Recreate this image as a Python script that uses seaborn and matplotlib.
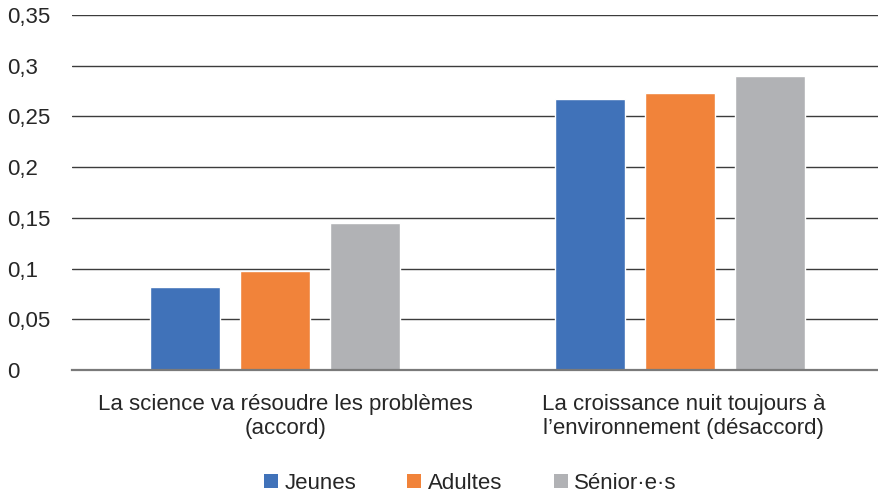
import matplotlib
matplotlib.use("Agg")
import matplotlib.pyplot as plt
import matplotlib.transforms as mtransforms
import seaborn as sns
import pandas as pd
from matplotlib.patches import Patch

categories = ["La science va résoudre les problèmes\n(accord)",
              "La croissance nuit toujours à\nl’environnement (désaccord)"]
groups = ["Jeunes", "Adultes", "Sénior·e·s"]
jeunes = [0.082, 0.267]
adultes = [0.098, 0.273]
seniors = [0.145, 0.290]
yticks = [0, 0.05, 0.1, 0.15, 0.2, 0.25, 0.3, 0.35]
ytick_labels = ["0", "0,05", "0,1", "0,15", "0,2", "0,25", "0,3", "0,35"]
colors = ["#4072B9", "#F1833A", "#B1B2B5"]

rows = []
for g, vals in zip(groups, [jeunes, adultes, seniors]):
    for c, v in zip(categories, vals):
        rows.append({"cat": c, "group": g, "val": v})
df = pd.DataFrame(rows)

sns.set_theme(style="white")
plt.rcParams["font.family"] = ["Liberation Sans", "DejaVu Sans"]
plt.rcParams["text.color"] = "#262626"

FS = 16
fig = plt.figure(figsize=(8.79, 4.94), dpi=100)
ax = fig.add_axes([72/879, 1 - 370/494, (879 - 72)/879, (370 - 15)/494])

sns.barplot(data=df, x="cat", y="val", hue="group", hue_order=groups,
            order=categories, palette=colors, width=0.665, gap=0.22,
            ax=ax, legend=False, saturation=1)

ax.set_xlim(-0.5, 1.49)
ax.set_ylim(0, 0.35)
ax.set_yticks(yticks)
ax.set_yticklabels(ytick_labels)
ax.set_xlabel("")
ax.set_ylabel("")
ax.yaxis.grid(True, color="#3c3c3c", linewidth=1.0)
ax.set_axisbelow(True)
for s in ["top", "right", "left"]:
    ax.spines[s].set_visible(False)
ax.spines["bottom"].set_color("#7a7a7a")
ax.spines["bottom"].set_linewidth(1.6)
ax.spines["bottom"].set_zorder(5)

ax.tick_params(axis="y", length=0, pad=47, labelsize=FS, labelcolor="#262626")
for lab in ax.get_yticklabels():
    lab.set_horizontalalignment("left")
ax.tick_params(axis="x", length=0, pad=17, labelsize=FS, labelcolor="#262626")
offsets_px = [11, 3]
for lab, dx in zip(ax.get_xticklabels(), offsets_px):
    lab.set_linespacing(1.2)
    lab.set_horizontalalignment("center")
    lab.set_transform(lab.get_transform() +
                      mtransforms.ScaledTranslation(dx / 100, 0, fig.dpi_scale_trans))

handles = [Patch(facecolor=c, edgecolor="none", label=g) for c, g in zip(colors, groups)]
fig.legend(handles=handles, loc="center", bbox_to_anchor=(0.535, 1 - 483/494),
           ncol=3, frameon=False, fontsize=FS, handlelength=0.63, handleheight=0.6,
           handletextpad=0.3, columnspacing=2.3, borderpad=0, borderaxespad=0)

fig.savefig("out.png", dpi=100)
